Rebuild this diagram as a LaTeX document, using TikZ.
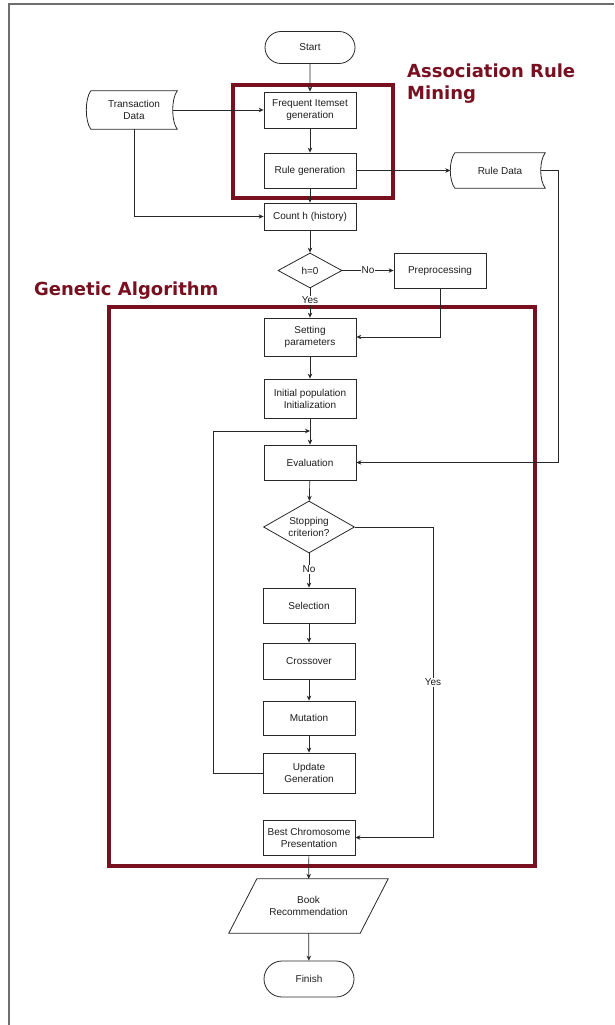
\documentclass[tikz,border=0pt]{standalone}
\usepackage{fontspec}
\setmainfont{Liberation Sans}
\newfontfamily\titlefont{DejaVu Sans}
\usetikzlibrary{shapes.geometric,shapes.misc,arrows.meta,calc}
\definecolor{maroon}{RGB}{120,16,32}
\definecolor{linec}{RGB}{40,40,40}
\definecolor{txtc}{RGB}{30,30,30}
\definecolor{framec}{RGB}{110,110,110}
\begin{document}
\begin{tikzpicture}[x=1pt,y=-1pt,
  box/.style={draw=linec,line width=0.8pt,minimum width=92pt,minimum height=36pt,align=center,font=\fontsize{10}{12}\selectfont,text=txtc,inner sep=1pt},
  termbox/.style={box,rounded rectangle},
  plain/.style={draw=none,align=center,font=\fontsize{10}{12}\selectfont,text=txtc,inner sep=1pt},
  conn/.style={draw=linec,line width=0.7pt,-{Stealth[length=5pt,width=4.5pt]}},
  lbl/.style={fill=white,font=\fontsize{10}{12}\selectfont,text=txtc,inner sep=1pt},
  grp/.style={draw=maroon,line width=4pt},
  grptitle/.style={text=maroon,font=\titlefont\bfseries\fontsize{18}{22}\selectfont,align=left,inner sep=0pt},
  stored/.style={draw=linec,line width=0.8pt}
]
\useasboundingbox (0,0) rectangle (614,1025);
\fill[white] (0,0) rectangle (614,1025);
\draw[framec,line width=2pt] (9,1025) -- (9,4) -- (614,4);

% group frames
\draw[grp] (233,85) rectangle (393,198);
\draw[grp] (109,307) rectangle (535,866);
\node[grptitle,anchor=base west] (armt) at (407,99.5) {Association Rule\\Mining};
\node[grptitle,anchor=base west] (gat) at (34,295) {Genetic Algorithm};

% nodes
\node[termbox,minimum height=32pt] (start) at (310,47.5) {Start};
\node[box] (freq) at (310,110) {Frequent Itemset\\generation};
\node[box,minimum height=35pt] (rule) at (310,170.5) {Rule generation};
\node[box,minimum height=27pt] (count) at (310,216.5) {Count h (history)};
\node[diamond,draw=linec,line width=0.8pt,minimum width=64pt,minimum height=35pt,inner sep=0pt,font=\fontsize{10}{12}\selectfont,text=txtc] (h0) at (310,270.5) {h=0};
\node[box,minimum height=35pt] (pre) at (440,270.5) {Preprocessing};
\node[box,minimum height=38pt] (set) at (310,337) {Setting\\parameters};
\node[box,minimum height=39pt] (init) at (310,398.5) {Initial population\\Initialization};
\node[box,minimum height=35pt] (eval) at (310,462.5) {Evaluation};
\node[diamond,draw=linec,line width=0.8pt,minimum width=91pt,minimum height=52pt,inner sep=0pt] (stop) at (309,527) {};
\node[plain] (stopt) at (stop) {Stopping\\criterion?};
\node[box,minimum height=35pt] (sel) at (309,605.5) {Selection};
\node[box,minimum height=36pt] (cross) at (309,661) {Crossover};
\node[box,minimum height=34pt] (mut) at (309,718) {Mutation};
\node[box,minimum height=40pt] (upd) at (309,773) {Update\\Generation};
\node[box,minimum height=35pt] (best) at (309,837.5) {Best Chromosome\\Presentation};
\node[plain,minimum width=131pt,minimum height=54pt] (book) at (308.5,906) {Book\\Recommendation};
\draw[stored] ($(book.north west)+(14,0)$) -- ($(book.north east)+(14,0)$) -- ($(book.south east)+(-14,0)$) -- ($(book.south west)+(-14,0)$) -- cycle;
\node[termbox,minimum height=36pt] (fin) at (309,979) {Finish};

\node[plain,minimum width=86pt,minimum height=38pt] (td) at (134,110) {Transaction\\Data};
\draw[stored] (td.north west) -- (td.north east) .. controls ($(td.north east)+(-6,8)$) and ($(td.south east)+(-6,-8)$) .. (td.south east) -- (td.south west) .. controls ($(td.south west)+(-6,-8)$) and ($(td.north west)+(-6,8)$) .. (td.north west);
\node[plain,minimum width=90pt,minimum height=35pt] (rd) at (500,170.5) {Rule Data};
\draw[stored] (rd.north west) -- (rd.north east) .. controls ($(rd.north east)+(-6,8)$) and ($(rd.south east)+(-6,-8)$) .. (rd.south east) -- (rd.south west) .. controls ($(rd.south west)+(-6,-8)$) and ($(rd.north west)+(-6,8)$) .. (rd.north west);

% helper coordinates
\coordinate (rdturn) at (558,0);
\coordinate (loopx) at (213,431);
\coordinate (yesx) at (433,0);

% connectors
\draw[conn] (start) -- (freq);
\draw[conn] ($(td.east)+(-4.5,0)$) -- (freq.west);
\draw[conn] (freq) -- (rule);
\draw[conn] (rule) -- (count);
\draw[conn] (td.south) |- (count.west);
\draw[conn] (rule.east) -- ($(rd.west)+(-4.5,0)$);
\draw[conn] ($(rd.east)+(-4.5,0)$) -- (rd.east -| rdturn) |- (eval.east);
\draw[conn] (count) -- (h0);
\draw[conn] (h0) -- node[lbl]{No} (pre);
\draw[conn] (h0) -- node[lbl,pos=0.4]{Yes} (set);
\draw[conn] (pre.south) |- (set.east);
\draw[conn] (set) -- (init);
\draw[conn] (init) -- (eval);
\draw[conn] (eval) -- (stop);
\draw[conn] (stop) -- node[lbl,pos=0.46]{No} (sel);
\draw[conn] (sel) -- (cross);
\draw[conn] (cross) -- (mut);
\draw[conn] (mut) -- (upd);
\draw[conn] (upd.west) -| (loopx) -- (loopx -| init.south);
\draw[conn] (stop.east) -- (stop.east -| yesx) -- node[lbl]{Yes} (best.east -| yesx) -- (best.east);
\draw[conn] (best) -- (book);
\draw[conn] (book) -- (fin);
\end{tikzpicture}
\end{document}
